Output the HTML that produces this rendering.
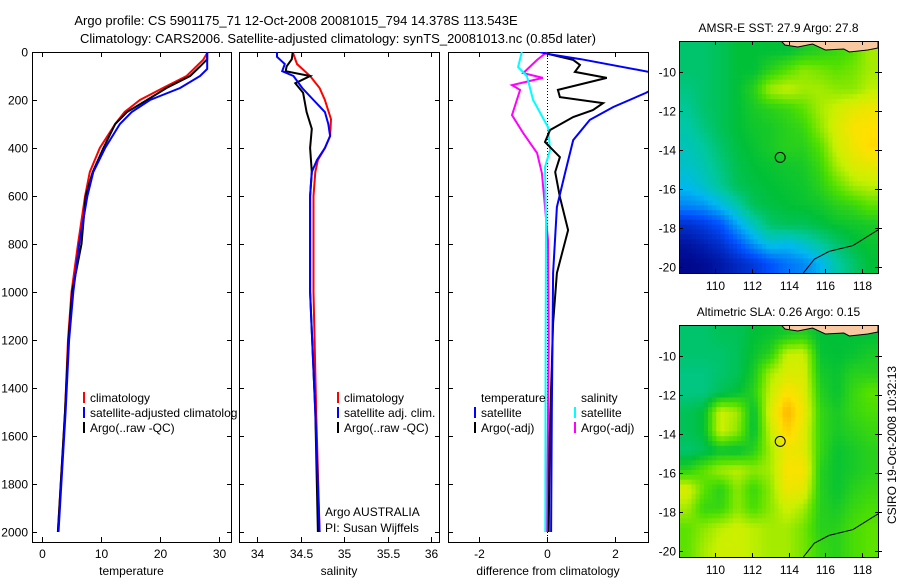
<!DOCTYPE html>
<html><head><meta charset="utf-8"><style>
html,body{margin:0;padding:0;background:#fff}
svg text{font-family:"Liberation Sans",sans-serif;fill:#000}
</style></head><body>
<svg id="fig" width="900" height="580" viewBox="0 0 900 580" xmlns="http://www.w3.org/2000/svg">
<text x="296" y="25" font-size="13" text-anchor="middle">Argo profile: CS 5901175_71 12-Oct-2008 20081015_794 14.378S 113.543E</text>
<text x="338" y="43" font-size="13" text-anchor="middle">Climatology: CARS2006. Satellite-adjusted climatology: synTS_20081013.nc (0.85d later)</text>
<g id="g"></g>
</svg>
<script>
// ---- Data ----
const depthTicks=[0,200,400,600,800,1000,1200,1400,1600,1800,2000];
const tempTicks=[0,10,20,30];
const salTicks=[34,34.5,35,35.5,36];
const diffTicks=[-2,0,2];
const tClimD=[0,33,100,150,200,250,300,400,500,600,800,1000,1200,1500,2000];
const tClimV=[28.1,27.3,24.5,20.5,16.6,14,12.4,9.8,8.1,7.3,6.1,5.0,4.4,3.9,2.7];
const tSatD=[0,71,100,150,200,250,300,400,500,600,800,1000,1200,1500,2000];
const tSatV=[28,28,26.8,23.4,18.3,15.2,13.2,10.7,8.7,7.7,6.3,5.3,4.6,4.0,2.8];
const tArgD=[0,30,60,100,150,200,250,300,400,500,600,800,1000,1200,1500,2000];
const tArgV=[28,28,26.8,25.1,21.1,17.8,14.4,12.4,10.4,8.6,7.4,6.7,5.1,4.5,3.9,2.7];
const sClimD=[0,50,100,150,200,280,350,400,450,500,600,1000,1500,2000];
const sClimV=[34.41,34.46,34.61,34.72,34.78,34.85,34.84,34.78,34.70,34.67,34.65,34.65,34.68,34.72];
const sSatD=[0,20,50,80,100,150,200,250,300,350,400,450,500,600,1000,1500,2000];
const sSatV=[34.23,34.23,34.32,34.29,34.42,34.52,34.65,34.78,34.82,34.84,34.78,34.69,34.63,34.61,34.61,34.67,34.72];
const sArgD=[0,30,60,80,100,130,170,250,320,400,500,600,1000,1500,2000];
const sArgV=[34.41,34.40,34.34,34.33,34.61,34.44,34.53,34.57,34.63,34.61,34.63,34.61,34.61,34.67,34.70];
const dTSatD=[0,10,30,83,120,171,229,283,367,505,646,921,1500,2000];
const dTSatV=[-0.2,0.1,1.0,3.0,3.6,2.9,1.95,1.26,0.77,0.53,0.29,0.18,0.14,0.12];
const dTArgD=[0,33,54,83,108,158,188,213,242,271,325,375,438,500,604,742,921,1129,1600,2000];
const dTArgV=[-0.2,0.77,0.97,0.82,1.76,0.32,0.38,1.65,1.35,0.77,0.09,-0.06,0.38,0.24,0.38,0.62,0.29,0.18,0.08,0.05];
const dSSatD=[0,63,100,150,200,313,408,479,700,1200,2000];
const dSSatV=[-0.74,-0.85,-0.59,-0.5,-0.41,0.03,0.09,-0.06,-0.03,-0.04,-0.05];
const dSArgD=[0,33,88,108,138,158,263,338,421,505,783,1200,2000];
const dSArgV=[0,-0.29,-0.7,-0.12,-1.03,-0.79,-1.03,-0.7,-0.29,-0.15,0.03,0.05,0.0];
const lonTicks=[110,112,114,116,118];
const latTicks=[-10,-12,-14,-16,-18,-20];
const sstGrid=[
[0.5,0.5,0.52,0.55,0.55,0.55,0.55,0.58,0.6,0.62,0.65,0.72],
[0.5,0.5,0.52,0.55,0.55,0.6,0.65,0.7,0.68,0.66,0.68,0.72],
[0.48,0.5,0.52,0.55,0.6,0.72,0.75,0.72,0.72,0.7,0.7,0.74],
[0.46,0.5,0.52,0.55,0.58,0.6,0.62,0.66,0.72,0.76,0.8,0.82],
[0.44,0.48,0.52,0.55,0.57,0.58,0.6,0.62,0.7,0.78,0.84,0.85],
[0.42,0.45,0.5,0.54,0.56,0.58,0.6,0.6,0.65,0.76,0.82,0.86],
[0.4,0.43,0.48,0.53,0.55,0.56,0.57,0.58,0.62,0.72,0.78,0.8],
[0.36,0.4,0.46,0.52,0.54,0.55,0.56,0.57,0.6,0.66,0.72,0.74],
[0.28,0.3,0.36,0.44,0.52,0.54,0.55,0.56,0.57,0.6,0.62,0.66],
[0.12,0.15,0.2,0.32,0.42,0.5,0.52,0.52,0.54,0.56,0.57,0.58],
[0.05,0.08,0.12,0.2,0.3,0.38,0.36,0.4,0.45,0.5,0.54,0.56],
[0.02,0.03,0.06,0.1,0.14,0.2,0.25,0.28,0.34,0.44,0.5,0.55]];
const slaGrid=[
[0.5,0.5,0.52,0.52,0.55,0.56,0.58,0.6,0.55,0.55,0.55,0.55],
[0.5,0.5,0.5,0.52,0.56,0.6,0.75,0.76,0.56,0.55,0.56,0.58],
[0.48,0.48,0.5,0.52,0.58,0.72,0.78,0.78,0.58,0.56,0.6,0.6],
[0.48,0.48,0.52,0.55,0.6,0.75,0.85,0.8,0.6,0.56,0.62,0.66],
[0.52,0.55,0.76,0.72,0.55,0.78,0.92,0.82,0.62,0.58,0.62,0.64],
[0.52,0.55,0.76,0.7,0.55,0.75,0.88,0.8,0.62,0.58,0.6,0.62],
[0.5,0.52,0.56,0.55,0.6,0.72,0.82,0.8,0.62,0.56,0.58,0.6],
[0.6,0.66,0.72,0.74,0.7,0.72,0.84,0.84,0.6,0.56,0.58,0.6],
[0.78,0.66,0.6,0.7,0.62,0.7,0.82,0.8,0.6,0.56,0.6,0.62],
[0.72,0.62,0.62,0.7,0.64,0.7,0.76,0.72,0.6,0.58,0.62,0.64],
[0.66,0.7,0.74,0.76,0.74,0.72,0.72,0.68,0.6,0.6,0.64,0.66],
[0.66,0.72,0.76,0.76,0.74,0.72,0.72,0.68,0.62,0.6,0.64,0.66]];
const argoLon=113.543, argoLat=-14.378;

// ---- Drawing ----
const NS='http://www.w3.org/2000/svg';
const G=document.getElementById('g');
function mk(tag,at,parent){const e=document.createElementNS(NS,tag);for(const k in at)e.setAttribute(k,at[k]);(parent||G).appendChild(e);return e;}
function txt(s,x,y,at){const e=mk('text',Object.assign({x:x,y:y,'font-size':12},at||{}));e.textContent=s;return e;}
const Y0=52, Y1=542;
function yD(d){return 52+d*0.24;}
const panels=[
 {x0:32,x1:231,f:v=>42+v*5.9,ticks:tempTicks,label:'temperature',name:'temperature'},
 {x0:239,x1:439,f:v=>257+(v-34)*87,ticks:salTicks,label:'salinity',name:'salinity'},
 {x0:448,x1:648,f:v=>547+v*34,ticks:diffTicks,label:'difference from climatology',name:'difference'}];
panels.forEach((p,i)=>{
  const cp=mk('clipPath',{id:'cp'+i});
  mk('rect',{x:p.x0,y:Y0,width:p.x1-p.x0,height:Y1-Y0},cp);
  const fr=mk('rect',{x:p.x0+0.5,y:Y0+0.5,width:p.x1-p.x0,height:Y1-Y0,fill:'none',stroke:'#000','stroke-width':1});
  
  
  p.ticks.forEach(t=>{const x=Math.round(p.f(t))+0.5;
    mk('line',{x1:x,x2:x,y1:Y0,y2:Y0+5,stroke:'#000'});mk('line',{x1:x,x2:x,y1:Y1,y2:Y1-5,stroke:'#000'});
    const tl=txt(String(t),x,Y1+16,{'text-anchor':'middle'});
    
    });
  depthTicks.forEach(d=>{const y=Math.round(yD(d))+0.5;
    mk('line',{x1:p.x0,x2:p.x0+5,y1:y,y2:y,stroke:'#000'});mk('line',{x1:p.x1-4,x2:p.x1+1,y1:y,y2:y,stroke:'#000'});
    if(i==0){const tl=txt(String(d),28,y+4,{'text-anchor':'end'});
      
      }});
  const xl=txt(p.label,(p.x0+p.x1)/2,Y1+33,{'text-anchor':'middle'});
  
  
});
function line(D,V,p,pi,color,name,w){
  const pts=D.map((d,k)=>p.f(V[k]).toFixed(1)+','+yD(d).toFixed(1)).join(' ');
  const e=mk('polyline',{points:pts,fill:'none',stroke:color,'stroke-width':w||2,'clip-path':'url(#cp'+pi+')'});
  
  
}
const zx=panels[2].f(0)+0.5;
mk('line',{x1:zx,x2:zx,y1:Y0,y2:Y1,stroke:'#000','stroke-dasharray':'1,2'});
line(tClimD,tClimV,panels[0],0,'#f00','temp-climatology-line');
line(tArgD,tArgV,panels[0],0,'#000','temp-argo-line');
line(tSatD,tSatV,panels[0],0,'#00f','temp-satellite-line');
line(sClimD,sClimV,panels[1],1,'#f00','sal-climatology-line');
line(sArgD,sArgV,panels[1],1,'#000','sal-argo-line');
line(sSatD,sSatV,panels[1],1,'#00f','sal-satellite-line');
line(dSArgD,dSArgV,panels[2],2,'#f0f','diff-sal-argo-line');
line(dSSatD,dSSatV,panels[2],2,'#0ff','diff-sal-satellite-line');
line(dTArgD,dTArgV,panels[2],2,'#000','diff-temp-argo-line');
line(dTSatD,dTSatV,panels[2],2,'#00f','diff-temp-satellite-line');
function leg(x,y,color,label,name){
  if(color)mk('rect',{x:x,y:y-10,width:2,height:11,fill:color});
  const t=txt(label,x+7,y,{});
  
  
}
leg(83,402,'#f00','climatology','legend-climatology');
leg(83,417,'#00f','satellite-adjusted climatolog','legend-satellite-adjusted');
leg(83,432,'#000','Argo(..raw -QC)','legend-argo-raw');
leg(337,402,'#f00','climatology','legend2-climatology');
leg(337,417,'#00f','satellite adj. clim.','legend2-satellite-adj');
leg(337,432,'#000','Argo(..raw -QC)','legend2-argo-raw');
leg(474,402,null,'temperature','legend3-temperature-header');
leg(474,417,'#00f','satellite','legend3-temp-satellite');
leg(474,432,'#000','Argo(-adj)','legend3-temp-argo');
leg(574,402,null,'salinity','legend3-salinity-header');
leg(574,417,'#0ff','satellite','legend3-sal-satellite');
leg(574,432,'#f0f','Argo(-adj)','legend3-sal-argo');
(function(){const a=txt('Argo AUSTRALIA',325,516,{});
const b=txt('PI: Susan Wijffels',325,532,{});})();

const stops=[[0,[0,0,128]],[0.2,[0,80,255]],[0.35,[0,184,240]],[0.45,[0,200,160]],[0.55,[0,192,56]],[0.65,[80,224,0]],[0.75,[200,240,0]],[0.85,[255,224,0]],[0.95,[255,160,0]],[1,[255,120,0]]];
function cmap(v){for(let i=1;i<stops.length;i++){if(v<=stops[i][0]){const a=stops[i-1],b=stops[i];const t=(v-a[0])/(b[0]-a[0]);
  const c=a[1].map((q,k)=>Math.round(q+(b[1][k]-q)*t));return 'rgb('+c.join(',')+')';}}return 'rgb(255,120,0)';}
function sample(grid,fr,fc){
  const R=grid.length-1,C=grid[0].length-1;
  fr=Math.max(0,Math.min(R,fr));fc=Math.max(0,Math.min(C,fc));
  const r0=Math.floor(fr),c0=Math.floor(fc),r1=Math.min(R,r0+1),c1=Math.min(C,c0+1);
  const tr=fr-r0,tc=fc-c0;
  const a=grid[r0][c0]*(1-tc)+grid[r0][c1]*tc, b=grid[r1][c0]*(1-tc)+grid[r1][c1]*tc;
  return a*(1-tr)+b*tr;
}
function drawMap(top,grid,title,name,mi){
  const x0=679,x1=878,y1=top+232;
  const lx=lon=>715+(lon-110)*18.4;
  const ly=lat=>top+31+(-10-lat)*19.5;
  const cp=mk('clipPath',{id:'mcp'+mi});
  mk('rect',{x:x0,y:top,width:x1-x0,height:y1-top},cp);
  const g=mk('g',{'clip-path':'url(#mcp'+mi+')'});
  
  
  const rows=grid.length,cols=grid[0].length,S=4;
  const cw=(x1-x0)/(cols*S),ch=(y1-top)/(rows*S);
  for(let ri=0;ri<rows*S;ri++)for(let ci=0;ci<cols*S;ci++){
    const v=sample(grid,(ri+0.5)/S-0.5,(ci+0.5)/S-0.5);
    const c=mk('rect',{x:(x0+ci*cw).toFixed(1),y:(top+ri*ch).toFixed(1),width:(cw+0.6).toFixed(1),height:(ch+0.6).toFixed(1),fill:cmap(v)},g);
    
    
  }
  const land=mk('path',{d:`M${lx(113.6)},${top} L${lx(113.8)},${top+4} L${lx(114.5)},${top+6} L${lx(115.3)},${top+3} L${lx(116)},${top+9} L${lx(117)},${top+8} L${lx(117.3)},${top+11} L${lx(118.3)},${top+9} L${x1},${top+7} L${x1},${top} Z`,fill:'#f8c8a0',stroke:'#000','stroke-width':1},g);
  
  
  mk('path',{d:`M${lx(114.8)},${y1} L${lx(115.4)},${ly(-19.6)} L${lx(116.2)},${ly(-19.2)} L${lx(117.5)},${ly(-18.9)} L${x1},${ly(-18.1)}`,fill:'none',stroke:'#000','stroke-width':1},g);
  const circ=mk('circle',{cx:lx(argoLon),cy:ly(argoLat),r:5,fill:'none',stroke:'#000','stroke-width':1});
  
  
  mk('rect',{x:x0+0.5,y:top+0.5,width:x1-x0,height:y1-top,fill:'none',stroke:'#000'});
  lonTicks.forEach(l=>{const x=Math.round(lx(l))+0.5;mk('line',{x1:x,x2:x,y1:top,y2:top+4,stroke:'#000'});mk('line',{x1:x,x2:x,y1:y1,y2:y1-4,stroke:'#000'});
    const t=txt(String(l),x,y1+17,{'text-anchor':'middle'});});
  latTicks.forEach(l=>{const y=Math.round(ly(l))+0.5;mk('line',{x1:x0,x2:x0+4,y1:y,y2:y,stroke:'#000'});mk('line',{x1:x1-3,x2:x1+4,y1:y,y2:y,stroke:'#000'});
    const t=txt(String(l),x0-3,y+4,{'text-anchor':'end'});});
  const tt=txt(title,(x0+x1)/2,top-9,{'text-anchor':'middle'});
  
  
}
drawMap(41,sstGrid,'AMSR-E SST: 27.9 Argo: 27.8','sst-map',0);
drawMap(325,slaGrid,'Altimetric SLA: 0.26 Argo: 0.15','sla-map',1);
(function(){const t=txt('CSIRO 19-Oct-2008 10:32:13',0,0,{'text-anchor':'middle',transform:'translate(896,445) rotate(-90)'});
})();
</script>
</body></html>
